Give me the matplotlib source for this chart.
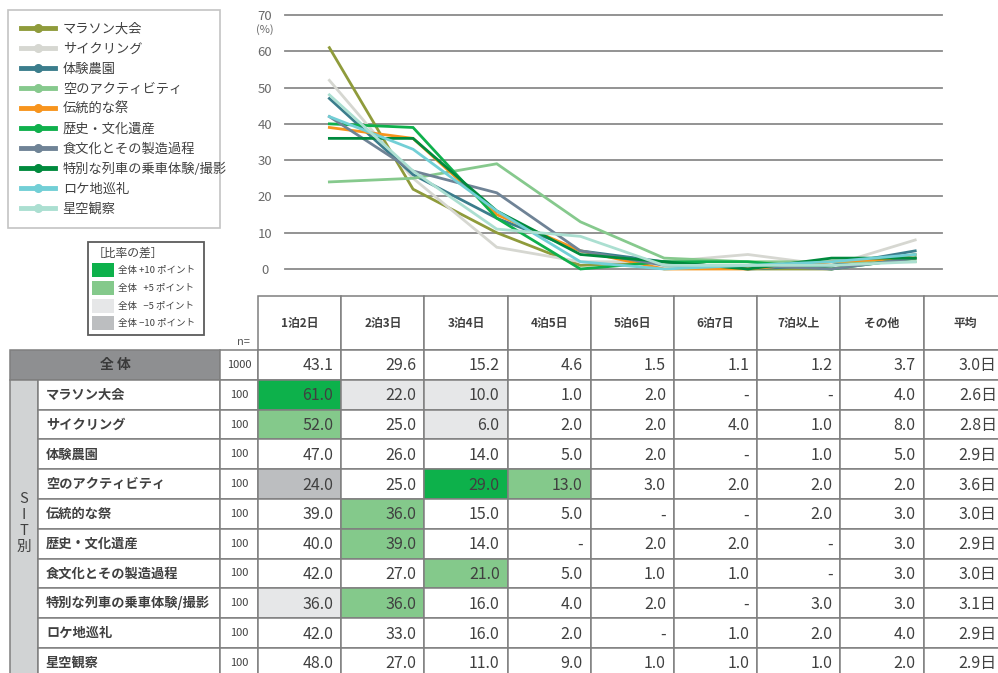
import matplotlib
matplotlib.use('Agg')
import matplotlib.pyplot as plt
from matplotlib.lines import Line2D
from matplotlib.patches import Rectangle, Patch

plt.rcParams['font.family'] = ['Noto Sans CJK JP', 'DejaVu Sans']

# ---- data ----
columns = ['1泊2日', '2泊3日', '3泊4日', '4泊5日', '5泊6日', '6泊7日', '7泊以上', 'その他', '平均']
total_label = '全 体'
total_n = 1000
total = [43.1, 29.6, 15.2, 4.6, 1.5, 1.1, 1.2, 3.7]
total_avg = 3.0

categories = ['マラソン大会', 'サイクリング', '体験農園', '空のアクティビティ', '伝統的な祭',
              '歴史・文化遺産', '食文化とその製造過程', '特別な列車の乗車体験/撮影',
              'ロケ地巡礼', '星空観察']
cat_n = [100, 100, 100, 100, 100, 100, 100, 100, 100, 100]
values = [
    [61.0, 22.0, 10.0, 1.0, 2.0, None, None, 4.0],
    [52.0, 25.0, 6.0, 2.0, 2.0, 4.0, 1.0, 8.0],
    [47.0, 26.0, 14.0, 5.0, 2.0, None, 1.0, 5.0],
    [24.0, 25.0, 29.0, 13.0, 3.0, 2.0, 2.0, 2.0],
    [39.0, 36.0, 15.0, 5.0, None, None, 2.0, 3.0],
    [40.0, 39.0, 14.0, None, 2.0, 2.0, None, 3.0],
    [42.0, 27.0, 21.0, 5.0, 1.0, 1.0, None, 3.0],
    [36.0, 36.0, 16.0, 4.0, 2.0, None, 3.0, 3.0],
    [42.0, 33.0, 16.0, 2.0, None, 1.0, 2.0, 4.0],
    [48.0, 27.0, 11.0, 9.0, 1.0, 1.0, 1.0, 2.0],
]
averages = [2.6, 2.8, 2.9, 3.6, 3.0, 2.9, 3.0, 3.1, 2.9, 2.9]

line_colors = ['#8f9b3b', '#d6d7d1', '#3b7d8c', '#86c98d', '#f7941d',
               '#0fb04c', '#6f8396', '#008a3d', '#72cfd6', '#abdfd1']

diff_labels = ['全体 +10 ポイント', '全体   +5 ポイント', '全体   −5 ポイント', '全体 −10 ポイント']
diff_colors = ['#0db14b', '#84c98b', '#e6e7e8', '#bcbec0']

TXT = '#404040'
GRID = '#8a8a8a'
EDGE = '#7f7f7f'

W, H = 998, 673
fig = plt.figure(figsize=(W / 100, H / 100), dpi=100)


def fx(px):
    return px / W


def fy(py):
    return 1 - py / H


# ---- line chart ----
ax = fig.add_axes([fx(285), fy(269), fx(942) - fx(285), fy(15) - fy(269)])
xs = list(range(len(total)))
for vals, col in zip(values, line_colors):
    ys = [0 if v is None else v for v in vals]
    ax.plot(xs, ys, color=col, lw=2, clip_on=False, solid_joinstyle='miter')
ax.set_xlim(-0.53, 7.32)
ax.set_ylim(0, 70)
ax.set_yticks(range(0, 71, 10))
ax.set_xticks([])
ax.grid(axis='y', color=GRID, lw=1.3)
ax.set_axisbelow(True)
for gl in ax.get_ygridlines():
    gl.set_clip_on(False)
for s in ax.spines.values():
    s.set_visible(False)
ax.tick_params(axis='y', length=0, pad=14.5, labelsize=9.5, labelcolor='#6a6a6a')
for lab in ax.get_yticklabels():
    lab.set_horizontalalignment('center')
fig.text(fx(265), fy(30), '(%)', ha='center', va='center', fontsize=8, color='#6a6a6a')

# ---- legends ----
handles = [Line2D([0], [0], color=c, lw=3.5, marker='o', markersize=5.5) for c in line_colors]
leg = fig.legend(handles, categories, loc='upper left',
                 bbox_to_anchor=(fx(8), fy(10), fx(220) - fx(8), 0.0), mode='expand',
                 borderaxespad=0, fancybox=False, edgecolor='#b5b5b5', fontsize=9.5,
                 handlelength=2.6, handletextpad=0.6, labelspacing=0.53, borderpad=0.95,
                 labelcolor=TXT)
leg.get_frame().set_linewidth(1.2)

patches = [Patch(facecolor=c, edgecolor='none') for c in diff_colors]
leg2 = fig.legend(patches, diff_labels, loc='upper left',
                  bbox_to_anchor=(fx(88), fy(242), fx(204) - fx(88), 0.0), mode='expand',
                  borderaxespad=0, fancybox=False, edgecolor='#333333', fontsize=6.8,
                  title='［比率の差］', title_fontsize=8.5, alignment='left',
                  handlelength=2.3, handleheight=1.9, handletextpad=0.4,
                  labelspacing=0.4, borderpad=0.45, labelcolor=TXT)
leg2.get_frame().set_linewidth(1.3)
leg2.get_title().set_color(TXT)

# ---- table ----
tb = fig.add_axes([0, 0, 1, 1])
tb.set_xlim(0, W)
tb.set_ylim(H, 0)
tb.axis('off')

col_x0, col_w = 258, 83.2
head_top, head_bot = 296, 350
row_h = 29.8
lab_x0, sit_x1, n_x0 = 10, 38, 220


def cell_color(v, base):
    if v is None:
        return 'white'
    d = v - base
    if d >= 10:
        return diff_colors[0]
    if d >= 5:
        return diff_colors[1]
    if d <= -10:
        return diff_colors[3]
    if d <= -5:
        return diff_colors[2]
    return 'white'


def rect(x, y, w, h, fc):
    tb.add_patch(Rectangle((x, y), w, h, facecolor=fc, edgecolor=EDGE, lw=1.1))


# header
for j, c in enumerate(columns):
    x = col_x0 + j * col_w
    rect(x, head_top, col_w, head_bot - head_top, 'white')
    tb.text(x + col_w / 2, (head_top + head_bot) / 2, c, ha='center', va='center',
            fontsize=8.5, color=TXT, fontweight='bold')
tb.text(243, 342, 'n=', ha='center', va='center', fontsize=8, color='#555555')


def value_row(y, vals, avg, n, base):
    rect(n_x0, y, col_x0 - n_x0, row_h, 'white')
    tb.text((n_x0 + col_x0) / 2, y + row_h / 2, str(n), ha='center', va='center',
            fontsize=8, color=TXT)
    for j, v in enumerate(vals):
        x = col_x0 + j * col_w
        fc = 'white' if base is None else cell_color(v, base[j])
        rect(x, y, col_w, row_h, fc)
        s = '-' if v is None else f'{v:.1f}'
        tb.text(x + col_w - 8, y + row_h / 2 + 1, s, ha='right', va='center',
                fontsize=11.5, color=TXT)
    x = col_x0 + len(vals) * col_w
    rect(x, y, col_w, row_h, 'white')
    tb.text(W - 1, y + row_h / 2 + 1, f'{avg:.1f}日', ha='right', va='center',
            fontsize=11.5, color=TXT)


# total row
rect(lab_x0, head_bot, n_x0 - lab_x0, row_h, '#8e8f91')
tb.text((lab_x0 + n_x0) / 2, head_bot + row_h / 2, total_label, ha='center', va='center',
        fontsize=10, fontweight='bold', color='#3a3a3a')
value_row(head_bot, total, total_avg, total_n, None)

# SIT rows
y0 = head_bot + row_h
rect(lab_x0, y0, sit_x1 - lab_x0, row_h * len(categories), '#d1d3d4')
tb.text((lab_x0 + sit_x1) / 2, y0 + row_h * 4.8, 'S\nI\nT\n別', ha='center', va='center',
        fontsize=10.5, color=TXT, linespacing=1.2)
for i, (cat, vals, avg, n) in enumerate(zip(categories, values, averages, cat_n)):
    y = y0 + i * row_h
    rect(sit_x1, y, n_x0 - sit_x1, row_h, 'white')
    tb.text(sit_x1 + 8, y + row_h / 2, cat, ha='left', va='center', fontsize=9.5,
            fontweight='bold', color=TXT)
    value_row(y, vals, avg, n, total)

fig.savefig('out.png', dpi=100)
